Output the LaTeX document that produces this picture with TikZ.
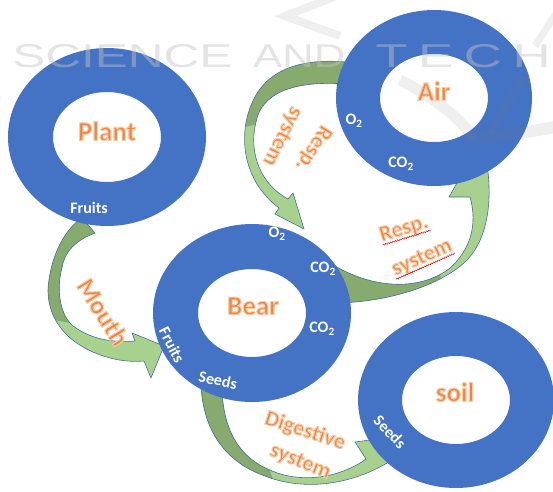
\documentclass[tikz,border=0pt]{standalone}
\usepackage{fontspec}
\setmainfont{Carlito}
\newfontfamily\wmfont{Liberation Sans}
\newfontfamily\wmfontsp[LetterSpace=20]{Liberation Sans}
\usetikzlibrary{decorations.pathmorphing}
\definecolor{ringblue}{HTML}{4472C4}
\definecolor{lgreen}{HTML}{A9D18E}
\definecolor{dgreen}{HTML}{87AB6E}
\definecolor{aline}{HTML}{41719C}
\definecolor{orng}{HTML}{EE843E}
\definecolor{wmgray}{HTML}{C4C4C4}
\definecolor{wmdark}{HTML}{7F7F7F}
\newcommand{\halotxt}[1]{\special{pdf:literal direct 2 Tr 1.1 w 0.97 0.80 0.67 RG}#1\special{pdf:literal direct 0 Tr}}
\def\pMouth{(82,218) .. controls (66,228) and (50,255) .. (48,290) .. controls (48,322) and (70,347) .. (110,358) .. controls (122,361) and (133,362) .. (144,361) -- (151,378) -- (164,346) -- (132,333) -- (135,341) .. controls (110,343) and (88,338) .. (72,325) .. controls (58,312) and (57,285) .. (62,268) .. controls (64,252) and (76,240) .. (95,233) -- cycle}
\def\pRespA{(346,62) .. controls (300,58) and (266,70) .. (252,103) .. controls (238,135) and (242,180) .. (279,208) -- (275,214) -- (304,229) -- (293,193) -- (288,199) .. controls (262,185) and (248,155) .. (256,122) .. controls (261,95) and (290,80) .. (346,84) -- cycle}
\def\pRespB{(336,303) .. controls (390,302) and (440,285) .. (465,262) .. controls (485,243) and (492,210) .. (488,172) -- (470,160) -- (449,197) -- (470,197) .. controls (478,225) and (470,250) .. (450,268) .. controls (425,288) and (380,292) .. (335,266) -- cycle}
\def\pDig{(201,385) .. controls (203,430) and (225,462) .. (265,476) .. controls (300,490) and (350,488) .. (395,458) -- (400,436) -- (355,442) -- (366,459) .. controls (340,478) and (300,484) .. (270,470) .. controls (240,458) and (222,430) .. (222,385) -- cycle}
\begin{document}
\begin{tikzpicture}[x=1pt,y=-1pt,
  ring/.style={fill=ringblue, even odd rule},
  outl/.style={draw=aline, line width=0.6pt, line join=round},
  biglabel/.style={text=orng, font=\bfseries\fontsize{27}{27}\selectfont, inner sep=0pt},
  orlabel/.style={text=orng, font=\bfseries\fontsize{22}{24}\selectfont, inner sep=0pt},
  wlabel/.style={text=white, font=\bfseries\fontsize{16}{16}\selectfont, inner sep=0pt},
  wmtext/.style={anchor=base west, inner sep=0pt, text=wmgray, text opacity=0.45},
  wmshape/.style={draw=wmdark, draw opacity=0.12, line width=9pt},
  squig/.style={red, line width=0.5pt, decorate, decoration={snake, amplitude=0.7pt, segment length=2.5pt}}
]
\useasboundingbox (0,0) rectangle (553,491);
\fill[white] (0,0) rectangle (553,491);
\coordinate (cPlant) at (107,137);
\coordinate (cBear) at (252,313);
\coordinate (cAir) at (434,98);
\coordinate (cSoil) at (456,400);

% curved arrows
\fill[lgreen] \pMouth;
\begin{scope}
  \clip (20,200) -- (140,200) -- (140,250) -- (70,323) -- (20,313) -- cycle;
  \fill[dgreen] \pMouth;
\end{scope}
\path[outl] \pMouth;

\fill[lgreen] \pRespA;
\begin{scope}
  \clip (230,40) -- (360,40) -- (360,90) -- (258,124) -- (230,130) -- cycle;
  \fill[dgreen] \pRespA;
\end{scope}
\path[outl] \pRespA;

\fill[lgreen] \pRespB;
\begin{scope}
  \clip (320,240) -- (430,240) -- (440,273) -- (446,310) -- (320,320) -- cycle;
  \fill[dgreen] \pRespB;
\end{scope}
\path[outl] \pRespB;

\fill[lgreen] \pDig;
\begin{scope}
  \clip (190,370) -- (268,370) -- (268,465) -- (280,500) -- (190,500) -- cycle;
  \fill[dgreen] \pDig;
\end{scope}
\path[outl] \pDig;

% rings
\fill[ring] (cPlant) ellipse [x radius=99, y radius=89] (cPlant) ellipse [x radius=54, y radius=45];
\fill[ring] (cBear) ellipse [x radius=99, y radius=89] (cBear) ellipse [x radius=54, y radius=44];
\fill[ring] (cAir) ellipse [x radius=98, y radius=88] (cAir) ellipse [x radius=54, y radius=44];
\fill[ring] (cSoil) ellipse [x radius=98, y radius=88] (cSoil) ellipse [x radius=54, y radius=44];

% watermark
\begin{scope}
  \clip (0,0) rectangle (553,491);
  \draw[wmshape, line width=8pt, line join=miter] (334,-3) -- (285,16) -- (340,36);
  \draw[wmshape, line width=11pt] (400,80) .. controls (440,100) and (462,122) .. (474,138);
  \draw[wmshape] (490,133) -- (523,77);
  \draw[wmshape, line width=12pt] (468,140) .. controls (500,136) and (530,132) .. (560,126);
  \draw[wmshape, line width=7pt] (535,46) -- (556,14);
  \node[wmtext, font=\wmfont\fontsize{33}{33}\selectfont, xscale=1.5] (wm1) at (12,67) {SCIENCE};
  \node[wmtext, font=\wmfont\fontsize{33}{33}\selectfont, xscale=1.32] (wm2) at (253,67) {AND};
  \node[wmtext, font=\wmfontsp\fontsize{33}{33}\selectfont, xscale=1.6] (wm3) at (375,67) {TECH};
\end{scope}

% ring titles
\node[biglabel] (plant) at (107,131) {\halotxt{Plant}};
\node[biglabel] (bear) at (253,306) {\halotxt{Bear}};
\node[biglabel] (air) at (434,91) {\halotxt{Air}};
\node[biglabel] (soil) at (455,392) {\halotxt{soil}};

% white labels
\node[wlabel] (fruitsP) at (89,208) {Fruits};
\node[wlabel, rotate=-63] (fruitsB) at (172,345) {Fruits};
\node[wlabel, rotate=-12] (seedsB) at (218,380) {Seeds};
\node[wlabel] (o2B) at (277,234) {O\textsubscript{2}};
\node[wlabel] (co2Ba) at (323,269) {CO\textsubscript{2}};
\node[wlabel] (co2Bb) at (322,329) {CO\textsubscript{2}};
\node[wlabel] (o2A) at (354,121) {O\textsubscript{2}};
\node[wlabel] (co2A) at (401,164) {CO\textsubscript{2}};
\node[wlabel, rotate=-46] (seedsS) at (390,432) {Seeds};

% arrow labels
\node[orlabel, font=\bfseries\fontsize{26}{26}\selectfont, rotate=-58] (mouth) at (103,312) {\halotxt{Mouth}};
\node[orlabel, rotate=-122] (respA1) at (313,148) {\halotxt{Resp.}};
\node[orlabel, rotate=-117] (respA2) at (282,136) {\halotxt{system}};
\node[orlabel, rotate=17] (respB1) at (404,229) {\halotxt{Resp.}};
\node[orlabel, rotate=24] (respB2) at (422,258) {\halotxt{system}};
\node[orlabel, rotate=-18] (dig1) at (305,431) {\halotxt{Digestive}};
\node[orlabel, rotate=-22] (dig2) at (300,462) {\halotxt{system}};
\draw[squig] (respB1.south west) -- (respB1.south east);
\draw[squig] (respB2.south west) -- (respB2.south east);
\end{tikzpicture}
\end{document}
